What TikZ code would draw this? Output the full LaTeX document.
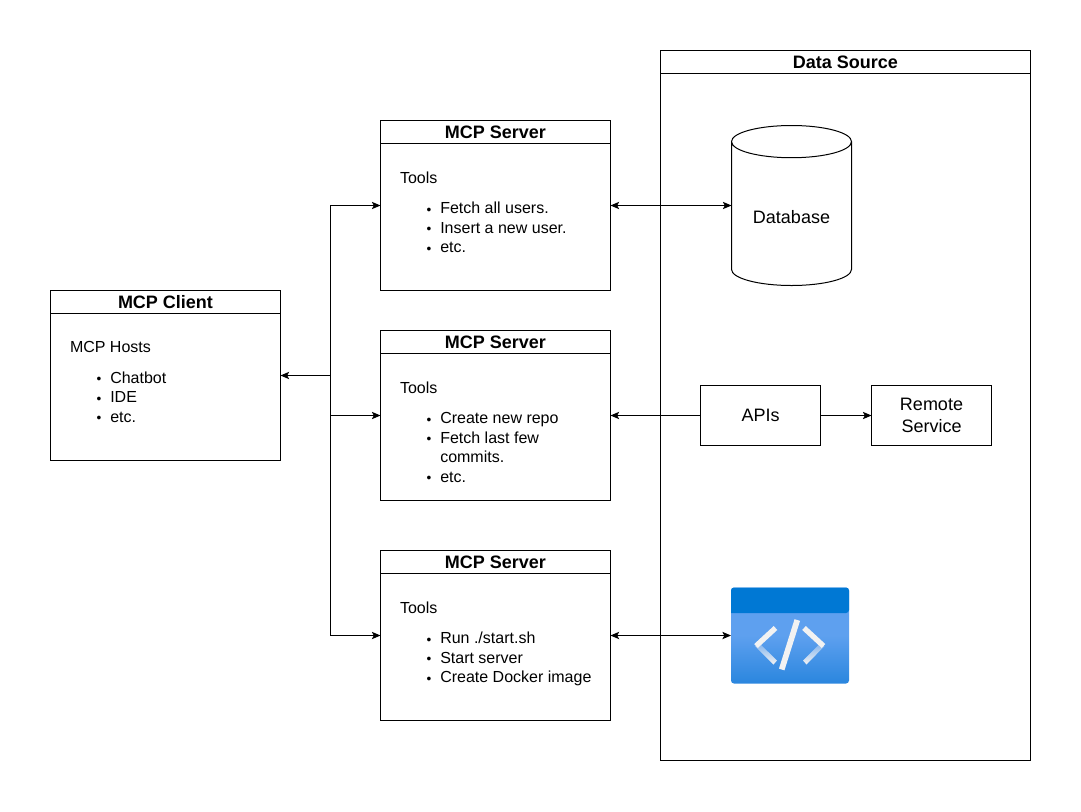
\documentclass[tikz,border=0pt]{standalone}
\usepackage{fontspec}
\setmainfont{Liberation Sans}
\usetikzlibrary{arrows.meta}
\usetikzlibrary{shapes.geometric}
\usetikzlibrary{calc}
\newcommand{\toolItem}[1]{\hspace*{30.2pt}\llap{\raisebox{-0.5pt}{\scalebox{0.85}{\textbullet}}\hspace{6.6pt}}#1}
\newcommand{\toolMore}[1]{\hspace*{30.2pt}#1}
\definecolor{iconTop}{HTML}{0078D4}
\definecolor{iconBody}{HTML}{5EA0EF}
\definecolor{iconLow}{HTML}{2A86DE}
\definecolor{iconMark}{HTML}{F2F2F2}
\definecolor{iconFade}{HTML}{7FB2EE}

\begin{document}
\begin{tikzpicture}[
    x=0.75pt,
    y=-0.75pt,
    line width=0.75pt,
    every node/.style={%
      outer sep=0pt,
    },
    panel/.style={%
      draw,
      rectangle,
      minimum width=172.5pt,
      minimum height=127.5pt,
    },
    source/.style={%
      draw,
      rectangle,
      minimum width=277.5pt,
      minimum height=532.5pt,
    },
    paneltitle/.style={%
      draw,
      rectangle,
      anchor=north,
      minimum height=17.25pt,
      inner sep=0pt,
      font=\fontsize{13.5pt}{15pt}\selectfont\bfseries,
    },
    bodytext/.style={%
      anchor=north west,
      align=left,
      inner sep=0pt,
      font=\fontsize{12pt}{14.65pt}\selectfont,
    },
    service/.style={%
      draw,
      rectangle,
      minimum width=90pt,
      minimum height=45pt,
      align=center,
      font=\fontsize{13.5pt}{16.5pt}\selectfont,
    },
    store/.style={%
      draw,
      cylinder,
      shape border rotate=90,
      aspect=0.375,
      anchor=shape center,
      minimum width=90pt,
      minimum height=120pt,
      font=\fontsize{13.5pt}{16.5pt}\selectfont,
    },
    link/.style={%
      -{Stealth[length=6.5pt,width=5.5pt,inset=1.5pt]},
    },
    linkboth/.style={%
      {Stealth[length=6.5pt,width=5.5pt,inset=1.5pt]}-{Stealth[length=6.5pt,width=5.5pt,inset=1.5pt]},
    },
  ]

    \useasboundingbox (0,0) rectangle (1081,811);

    \node [panel] (client) at (165.5,375.5) {};
    \node [panel] (serverA) at (495.5,205.5) {};
    \node [panel] (serverB) at (495.5,415.5) {};
    \node [panel] (serverC) at (495.5,635.5) {};
    \node [source] (source) at (845.5,405.5) {};

    \node [paneltitle,minimum width=172.5pt] (clientTitle) at (client.north) {MCP Client};
    \node [paneltitle,minimum width=172.5pt] (serverATitle) at (serverA.north) {MCP Server};
    \node [paneltitle,minimum width=172.5pt] (serverBTitle) at (serverB.north) {MCP Server};
    \node [paneltitle,minimum width=172.5pt] (serverCTitle) at (serverC.north) {MCP Server};
    \node [paneltitle,minimum width=277.5pt] (sourceTitle) at (source.north) {Data Source};

    \path (client.north west) ++(19.5,51) node [bodytext] (clientBody) {MCP Hosts\\[8.2pt]
      \toolItem{Chatbot}\\ \toolItem{IDE}\\ \toolItem{etc.}};
    \path (serverA.north west) ++(19.5,51) node [bodytext] (serverABody) {Tools\\[8.2pt]
      \toolItem{Fetch all users.}\\ \toolItem{Insert a new user.}\\ \toolItem{etc.}};
    \path (serverB.north west) ++(19.5,51) node [bodytext] (serverBBody) {Tools\\[8.2pt]
      \toolItem{Create new repo}\\ \toolItem{Fetch last few}\\ \toolMore{commits.}\\ \toolItem{etc.}};
    \path (serverC.north west) ++(19.5,51) node [bodytext] (serverCBody) {Tools\\[8.2pt]
      \toolItem{Run ./start.sh}\\ \toolItem{Start server}\\ \toolItem{Create Docker image}};

    \node [store] (database) at (791.5,205.5) {Database};
    \node [service] (apis) at (760.5,415.5) {APIs};
    \node [service] (remote) at (931.5,415.5) {Remote\\Service};

    \node [rectangle,rounded corners=2.25pt,inner sep=0pt,minimum width=88.5pt,minimum height=72pt,
      top color=iconBody,bottom color=iconLow,middle color=iconBody] (icon) at (790,635.5) {};
    \fill [iconTop,rounded corners=2.25pt] (icon.west |- 0,613) -- (icon.north west) -- (icon.north east) -- (icon.east |- 0,613) [sharp corners] -- cycle;
    \shade [top color=iconFade,bottom color=iconMark] (755,646) -- (758.5,642.5) -- (777,660.5) -- (773.5,664.5) -- cycle;
    \shade [top color=iconFade,bottom color=iconMark] (824.5,646) -- (821,642.5) -- (803,660.5) -- (806.5,664.5) -- cycle;
    \draw [iconMark,line width=4pt] (775.5,628) -- (756,646);
    \draw [iconMark,line width=4pt] (804,628) -- (823.5,646);
    \draw [iconMark,line width=4.3pt] (797.3,620) -- (781.7,669.5);

    \coordinate (trunk) at (330.5,375.5);

    \draw [link] (trunk) -- (client.east);
    \draw [link] (trunk) |- (serverA.west);
    \draw [link] (trunk) |- (serverB.west);
    \draw [link] (trunk) |- (serverC.west);
    \draw [linkboth] (serverA.east) -- (database.west |- serverA.east);
    \draw [link] (apis.west) -- (serverB.east);
    \draw [link] (apis.east) -- (remote.west);
    \draw [linkboth] (serverC.east) -- (icon.west);

\end{tikzpicture}
\end{document}
